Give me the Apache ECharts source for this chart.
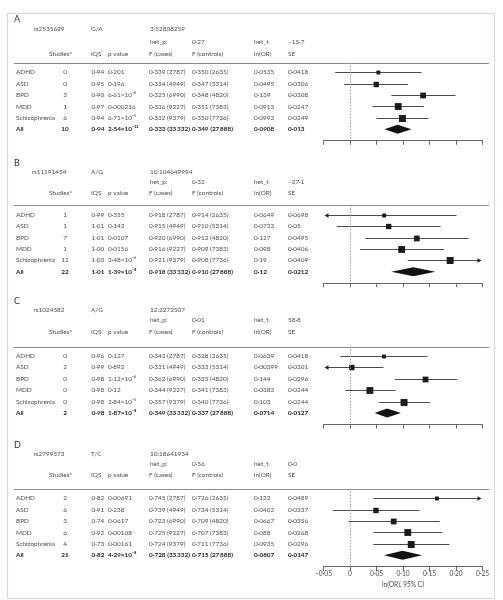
<!DOCTYPE html>
<html><head><meta charset="utf-8">
<script src="https://cdn.jsdelivr.net/npm/echarts@6/dist/echarts.min.js"></script>
<style>html,body{margin:0;padding:0;background:#fff}#c{width:503px;height:600px}</style>
</head><body><div id="c"></div>
<script>
// ---------- data ----------
const panelLetters = ['A','B','C','D'];
const snpIds = ['rs2535629','rs11191454','rs1024582','rs2799573'];
const alleles = ['G/A','A/G','A/G','T/C'];
const positions = ['3:52808259','10:104649994','12:2272507','10:18641934'];
const hetP = ['0·27','0·32','0·01','0·56'];
const hetT = ['−15·7','−27·1','58·8','0·0'];
const disorders = ['ADHD','ASD','BPD','MDD','Schizophrenia','All'];
const casesN = [2787,4949,6990,9227,9379,33332];
const controlsN = [2635,5314,4820,7383,7736,27888];
const studies = [[0,0,3,1,6,10],[1,1,7,1,12,22],[0,2,0,0,0,2],[2,6,3,6,4,21]];
const iqs = [
  ['0·94','0·95','0·90','0·97','0·94','0·94'],
  ['0·99','1·01','1·01','1·00','1·03','1·01'],
  ['0·96','0·99','0·98','0·98','0·98','0·98'],
  ['0·82','0·91','0·74','0·92','0·73','0·82']];
const pValues = [
  ['0·201','0·196','6·61×10⁻⁶','0·000216','6·71×10⁻⁵','2·54×10⁻¹²'],
  ['0·355','0·143','0·0107','0·0156','3·48×10⁻⁶','1·39×10⁻⁸'],
  ['0·127','0·892','1·12×10⁻⁶','0·12','2·84×10⁻⁵','1·87×10⁻⁸'],
  ['0·00691','0·238','0·0617','0·00108','0·00161','4·29×10⁻⁸']];
const fCases = [
  ['0·339','0·334','0·325','0·336','0·332','0·333'],
  ['0·918','0·915','0·920','0·916','0·921','0·918'],
  ['0·342','0·331','0·362','0·344','0·357','0·349'],
  ['0·745','0·739','0·723','0·725','0·724','0·728']];
const fControls = [
  ['0·350','0·347','0·348','0·351','0·350','0·349'],
  ['0·914','0·910','0·912','0·909','0·908','0·910'],
  ['0·328','0·333','0·335','0·341','0·340','0·337'],
  ['0·726','0·734','0·709','0·707','0·711','0·715']];
const lnORText = [
  ['0·0535','0·0495','0·139','0·0913','0·0993','0·0908'],
  ['0·0649','0·0733','0·127','0·098','0·19','0·12'],
  ['0·0639','0·00399','0·144','0·0383','0·103','0·0714'],
  ['0·132','0·0402','0·0667','0·088','0·0935','0·0807']];
const seText = [
  ['0·0418','0·0306','0·0308','0·0247','0·0249','0·013'],
  ['0·0698','0·05','0·0495','0·0406','0·0409','0·0212'],
  ['0·0418','0·0301','0·0296','0·0244','0·0244','0·0127'],
  ['0·0489','0·0337','0·0356','0·0268','0·0296','0·0147']];
// plotted point estimates and 95% CI, as drawn in the figure
const estimate = [
  [0.0535,0.0495,0.138,0.0910,0.0990,0.0900],
  [0.0645,0.0730,0.126,0.0975,0.189,0.1195],
  [0.0640,0.0035,0.1425,0.0375,0.102,0.0700],
  [0.164,0.049,0.0825,0.109,0.1155,0.099]];
const lower = [
  [-0.028,-0.011,0.078,0.0425,0.050,0.065],
  [-0.072,-0.025,0.029,0.019,0.109,0.078],
  [-0.018,-0.055,0.085,-0.009,0.055,0.0465],
  [0.044,-0.0325,-0.003,0.044,0.044,0.064]];
const upper = [
  [0.135,0.109,0.199,0.139,0.148,0.116],
  [0.201,0.171,0.224,0.177,0.270,0.161],
  [0.146,0.063,0.202,0.086,0.151,0.096],
  [0.270,0.131,0.169,0.174,0.1875,0.136]];
const xMin = -0.05, xMax = 0.25, xStep = 0.05;
const xAxisTitle = 'ln(OR), 95% CI';

// ---------- layout ----------
const SEP = [62.7, 205.2, 346.5, 488.7];
const HDR = [[19,29,41.5,54],[163,172,182,193],[301,310,320,332],[445,453.5,463.5,475]];
const ROW0 = 9.5, GRID_H = 78, Y_MIN = -0.833, Y_MAX = 6;
const ROWH = GRID_H / (Y_MAX - Y_MIN);
const FONT = 'Lato';
const FS = 6.4;
const TXT = '#4a4a4a', TXT_B = '#222';

function fmtN(n){ const s = String(n); return n >= 10000 ? s.slice(0, s.length-3) + '\u2009' + s.slice(-3) : s; }
function fmtTick(v){ if (Math.abs(v) < 1e-9) return '0'; return (v < 0 ? '−' : '') + Math.abs(v).toFixed(2).replace('.', '·'); }

const chart = echarts.init(document.getElementById('c'), null, {renderer:'canvas'});

const grids = [], xAxes = [], yAxes = [], series = [], graphics = [];

function txt(x, y, s, opt) {
  opt = opt || {};
  graphics.push({type:'text', x:x, y:y, silent:true, style:{text:s, fill:opt.fill||TXT,
    font:(opt.weight||'normal') + ' ' + (opt.size||FS) + 'px ' + FONT,
    align:opt.align||'left', verticalAlign:'middle'}});
}

graphics.push({type:'rect', shape:{x:7.5, y:13.5, width:487, height:585}, style:{fill:'none', stroke:'#e6d0d9', lineWidth:1}, silent:true});

for (let p = 0; p < 4; p++) {
  const top = SEP[p];
  grids.push({left:323.5, top:top, width:159, height:GRID_H});
  xAxes.push({gridIndex:p, type:'value', min:xMin, max:xMax, interval:xStep,
    axisLine:{show:true, onZero:false, lineStyle:{color:'#666', width:1}},
    axisTick:{show:true, length:4, lineStyle:{color:'#666'}},
    axisLabel:{show:p===3, fontSize:6.6, fontFamily:FONT, color:TXT, margin:4, formatter:fmtTick},
    splitLine:{show:false},
    name:p===3 ? xAxisTitle : '', nameLocation:'middle', nameGap:15,
    nameTextStyle:{fontSize:6.6, fontFamily:FONT, color:TXT}});
  yAxes.push({gridIndex:p, type:'value', min:Y_MIN, max:Y_MAX, inverse:true, show:false});

  const boxData = [], diaData = [];
  for (let i = 0; i < 6; i++) {
    const size = 0.053 * Math.sqrt(casesN[i] + controlsN[i]);
    const item = [estimate[p][i], lower[p][i], upper[p][i], i, size];
    if (i < 5) boxData.push(item); else diaData.push(item);
  }
  series.push({type:'custom', xAxisIndex:p, yAxisIndex:p, clip:false, silent:true,
    data:boxData, renderItem:function(params, api){
      const est = api.value(0), lo = api.value(1), hi = api.value(2), row = api.value(3), size = api.value(4);
      const c = api.coord([est, row]);
      const xa = api.coord([xMin, row])[0], xb = api.coord([xMax, row])[0];
      let xl = api.coord([lo, row])[0], xr = api.coord([hi, row])[0];
      const aL = xl < xa, aR = xr > xb;
      xl = Math.max(xl, xa); xr = Math.min(xr, xb);
      const y = Math.round(c[1]) + 0.5;
      const ch = [];
      ch.push({type:'line', shape:{x1:xl + (aL?3:0), y1:y, x2:xr - (aR?3:0), y2:y}, style:{stroke:'#4a4a4a', lineWidth:1}});
      if (aL) ch.push({type:'polygon', shape:{points:[[xa+1, y],[xa+5, y-2.2],[xa+5, y+2.2]]}, style:{fill:'#222'}});
      if (aR) ch.push({type:'polygon', shape:{points:[[xb-1, y],[xb-5, y-2.2],[xb-5, y+2.2]]}, style:{fill:'#222'}});
      ch.push({type:'rect', shape:{x:c[0]-size/2, y:y-size/2, width:size, height:size}, style:{fill:'#1a1a1a'}});
      return {type:'group', children:ch};
    },
    markLine:{silent:true, symbol:'none', label:{show:false},
      lineStyle:{type:[1.5,1.5], color:'#9a9a9a', width:1}, data:[{xAxis:0}]}
  });
  series.push({type:'custom', xAxisIndex:p, yAxisIndex:p, clip:false, silent:true,
    data:diaData, renderItem:function(params, api){
      const est = api.value(0), lo = api.value(1), hi = api.value(2), row = api.value(3);
      const c = api.coord([est, row]);
      const xl = api.coord([lo, row])[0], xr = api.coord([hi, row])[0];
      const h = 4.5;
      return {type:'polygon', shape:{points:[[xl, c[1]],[c[0], c[1]-h],[xr, c[1]],[c[0], c[1]+h]]}, style:{fill:'#111'}};
    }});

  // separator
  graphics.push({type:'line', silent:true, shape:{x1:14, y1:Math.round(top)+0.5, x2:489, y2:Math.round(top)+0.5}, style:{stroke:'#888', lineWidth:1}});
  // headers
  const h = HDR[p];
  txt(14, h[0], panelLetters[p], {size:9, fill:'#333'});
  txt(49, h[1], snpIds[p], {align:'center'});
  txt(91, h[1], alleles[p]);
  txt(150, h[1], positions[p]);
  txt(150, h[2], 'het_p:');
  txt(192, h[2], hetP[p]);
  txt(254, h[2], 'het_t');
  txt(288, h[2], hetT[p]);
  txt(49, h[3], 'Studies*');
  txt(91, h[3], 'IQS');
  txt(108, h[3], 'p value');
  txt(149, h[3], 'F (cases)');
  txt(192, h[3], 'F (controls)');
  txt(254, h[3], 'ln(OR)');
  txt(288, h[3], 'SE');
  // rows
  for (let i = 0; i < 6; i++) {
    const y = top + ROW0 + i * ROWH;
    const o = i === 5 ? {weight:'bold', fill:TXT_B} : {};
    txt(16, y, disorders[i], o);
    txt(65, y, String(studies[p][i]), Object.assign({align:'center'}, o));
    txt(91.5, y, iqs[p][i], o);
    txt(108, y, pValues[p][i], o);
    txt(149, y, fCases[p][i] + ' (' + fmtN(casesN[i]) + ')', o);
    txt(192, y, fControls[p][i] + ' (' + fmtN(controlsN[i]) + ')', o);
    txt(254, y, lnORText[p][i], o);
    txt(288, y, seText[p][i], o);
  }
}

chart.setOption({
  animation:false,
  backgroundColor:'#fff',
  grid:grids, xAxis:xAxes, yAxis:yAxes, series:series, graphic:graphics
});
</script></body></html>
